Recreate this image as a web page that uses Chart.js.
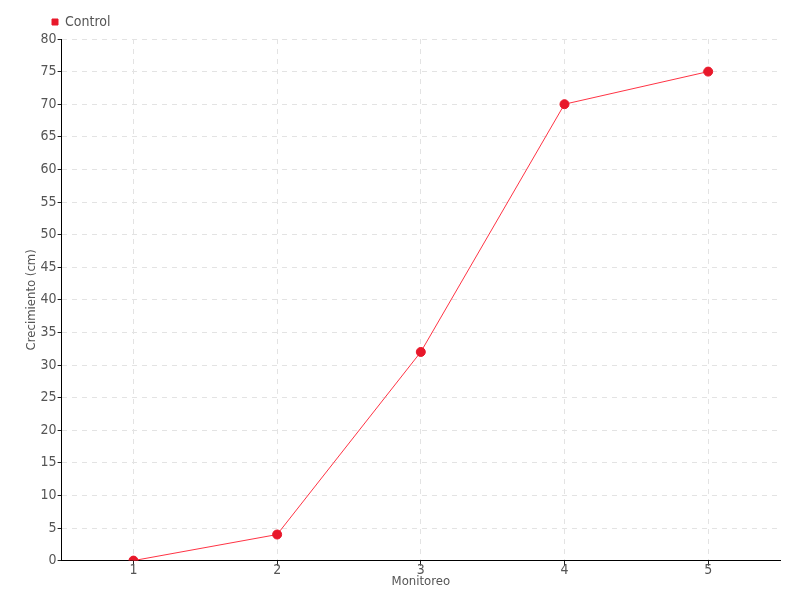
<!DOCTYPE html>
<html>
<head>
<meta charset="utf-8">
<script src="https://cdn.jsdelivr.net/npm/chart.js@4/dist/chart.umd.min.js"></script>
<style>
body{margin:0;background:#fff}
#wrap{width:800px;height:600px}
</style>
</head>
<body>
<div id="wrap"><canvas id="canvas"></canvas></div>
<script>
let labels=['1','2','3','4','5']
let control=[0,4,32,70,75]
let yMin=0
let yMax=80
let yStep=5

let fontFam='"Liberation Sans Narrow","DejaVu Sans Condensed","Roboto",sans-serif'
Chart.defaults.font.family=fontFam
Chart.defaults.font.size=14
Chart.defaults.color='#555'

// move legend to the right so it starts near the y axis
let legendShift={
    id:'legendShift',
    afterLayout(chart){
        if(chart.legend){
            chart.legend.left=40
        }
    }
}

let canvas=document.getElementById('canvas')
new Chart(canvas,{
    type:'line',
    data:{
        labels:labels,
        datasets:[{
            label:'Control',
            data:control,
            borderColor:'#ff3344',
            backgroundColor:'#e8182a',
            pointBackgroundColor:'#e8182a',
            pointBorderColor:'#e8182a',
            borderWidth:1,
            pointRadius:4.5,
            tension:0
        }]
    },
    options:{
        responsive:true,
        maintainAspectRatio:false,
        animation:false,
        layout:{padding:{left:24,right:20,top:3,bottom:11}},
        plugins:{
            legend:{
                align:'start',
                labels:{
                    usePointStyle:true,
                    pointStyle:'rect',
                    boxWidth:6,
                    boxHeight:6,
                    padding:12,
                    color:'#555',
                    font:{size:14}
                }
            },
            tooltip:{enabled:false}
        },
        scales:{
            x:{
                offset:true,
                grid:{offset:false,color:'#e3e3e3',tickColor:'#222',tickLength:5},
                border:{color:'#000',dash:[5,5]},
                ticks:{padding:-4},
                title:{display:true,text:'Monitoreo',color:'#555',font:{size:13},padding:{top:-1,bottom:0}}
            },
            y:{
                min:yMin,
                max:yMax,
                grid:{color:'#e3e3e3',tickColor:'#222',tickLength:4},
                border:{color:'#000',dash:[5,5]},
                ticks:{stepSize:yStep,padding:1},
                title:{display:true,text:'Crecimiento (cm)',color:'#555',font:{size:13},padding:{top:0,bottom:0}}
            }
        }
    },
    plugins:[legendShift]
})
</script>
</body>
</html>
